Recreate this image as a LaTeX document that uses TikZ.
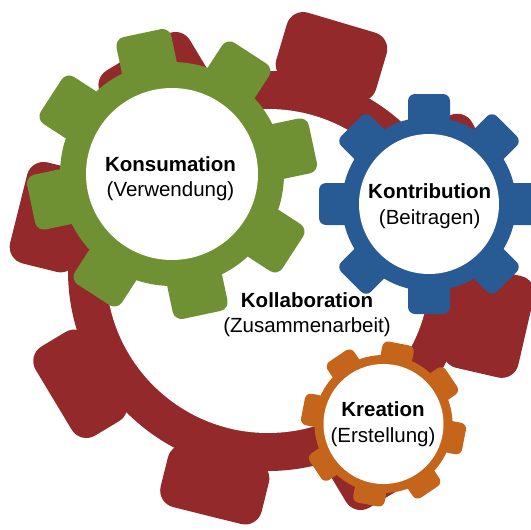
\documentclass[tikz,border=0pt]{standalone}
\usepackage{fontspec}
\setmainfont{Liberation Sans}
\definecolor{gearred}{HTML}{93292A}
\definecolor{geargreen}{HTML}{6F9133}
\definecolor{gearblue}{HTML}{285A93}
\definecolor{gearorange}{HTML}{C5651C}
% #1 colour, #2 centre, #3 body radius, #4 list of tooth angle/tooth radius,
% #5 tooth width, #6 corner radius, #7 hole radius
\newcommand{\drawgear}[7]{%
  \begin{scope}[shift={(#2)}]
    \fill[#1] (0,0) circle (#3);
    \foreach \a/\r in {#4} {
      \fill[#1, rotate=\a, rounded corners=#6] (#3-12,-#5/2) rectangle (\r,#5/2);
    }
    \fill[white] (0,0) circle (#7);
  \end{scope}}
\tikzset{
  lbltitle/.style={anchor=base, inner sep=0pt, font=\fontsize{20.5}{25}\selectfont\bfseries},
  lblsub/.style={anchor=base, inner sep=0pt, font=\fontsize{20.5}{25}\selectfont}
}
\begin{document}
\begin{tikzpicture}[x=1pt,y=-1pt]
\useasboundingbox (0,0) rectangle (531,530);
\clip (0,0) rectangle (531,530);
\fill[white] (0,0) rectangle (531,530);
\drawgear{gearred}{268,271}{200}{28/250,73.5/259,121/255,166/257,211/250,256/252,301/255,347/265}{104}{17pt}{162}
\drawgear{geargreen}{172,174}{112}{12/144,57/144,102/144,147/144,192/144,237/144,282/144,327/144}{56}{9pt}{86}
\drawgear{gearblue}{429,204}{87}{0/110,45/110,90/110,135/110,180/110,225/110,270/110,315/110}{42}{7pt}{70}
\drawgear{gearorange}{383.5,424}{69}{34/82,79/82,124/82,169/82,214/82,259/82,304/82,349/82}{32}{6pt}{60}
\node[lbltitle] (kons) at (170.5,171.7) {Konsumation};
\node[lblsub] (konsb) at (170.5,196.7) {(Verwendung)};
\node[lbltitle] (kont) at (429.7,198.3) {Kontribution};
\node[lblsub] (kontb) at (429.7,224) {(Beitragen)};
\node[lbltitle] (koll) at (307,307.5) {Kollaboration};
\node[lblsub] (kollb) at (307,332.5) {(Zusammenarbeit)};
\node[lbltitle] (krea) at (383,416.7) {Kreation};
\node[lblsub] (kreab) at (383,442) {(Erstellung)};
\end{tikzpicture}
\end{document}
